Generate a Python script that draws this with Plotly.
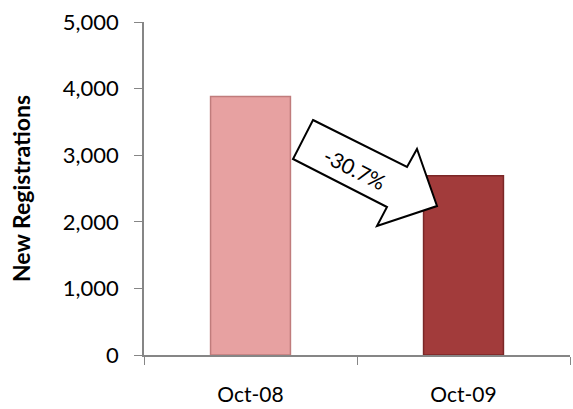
import plotly.graph_objects as go

# chart data
months = ["Oct-08", "Oct-09"]
registrations = [3880, 2690]
change_label = "-30.7%"

bar_colors = ["#E7A1A1", "#A23B3B"]
bar_edges = ["#C07C7C", "#7B2727"]

W, H = 573, 409
L, R, T, B = 144, 3, 22, 54


def px_to_paper(x, y):
    """convert pixel position in the 573x409 canvas to paper coords"""
    return (x - L) / (W - L - R), (H - B - y) / (H - T - B)


fig = go.Figure()
fig.add_trace(go.Bar(
    x=months,
    y=registrations,
    marker=dict(color=bar_colors, line=dict(color=bar_edges, width=1.5)),
    width=0.375,
    hoverinfo="x+y",
))

# block arrow (decoration)
arrow_px = [(313, 120), (407, 167), (417, 149), (437, 206),
            (377, 226), (387, 207), (293, 159)]
pts = [px_to_paper(x, y) for x, y in arrow_px]
path = "M " + " L ".join(f"{x:.4f},{y:.4f}" for x, y in pts) + " Z"
fig.add_shape(type="path", path=path, xref="paper", yref="paper",
              fillcolor="white", line=dict(color="black", width=2))

tx, ty = px_to_paper(355, 168)
fig.add_annotation(x=tx, y=ty, xref="paper", yref="paper", text=change_label,
                   textangle=26.6, showarrow=False,
                   font=dict(family="Lato", size=21, color="black"))

fig.update_layout(
    width=W, height=H,
    margin=dict(l=L, r=R, t=T, b=B),
    plot_bgcolor="white", paper_bgcolor="white",
    font=dict(family="Lato", size=22, color="black"),
    showlegend=False,
)
fig.update_xaxes(
    type="category", automargin=False,
    showline=True, linecolor="#868686", linewidth=1.5,
    ticks="outside", tickson="boundaries", ticklen=8, tickcolor="#868686",
    ticklabelstandoff=20, tickfont=dict(size=21),
    showgrid=False,
)
fig.update_yaxes(
    range=[0, 5000], tickvals=[0, 1000, 2000, 3000, 4000, 5000],
    tickformat=",d", automargin=False,
    showline=True, linecolor="#868686", linewidth=1.5,
    ticks="outside", ticklen=8, tickcolor="#868686",
    ticklabelstandoff=11,
    showgrid=False, zeroline=False,
    title=dict(text="<b>New Registrations</b>", standoff=26,
               font=dict(family="Lato", size=23)),
)

# drop the default 8px body margin so the figure sits at the page origin
fig.write_html("out.html", config={"displayModeBar": False},
               post_script="document.body.style.margin='0';")
